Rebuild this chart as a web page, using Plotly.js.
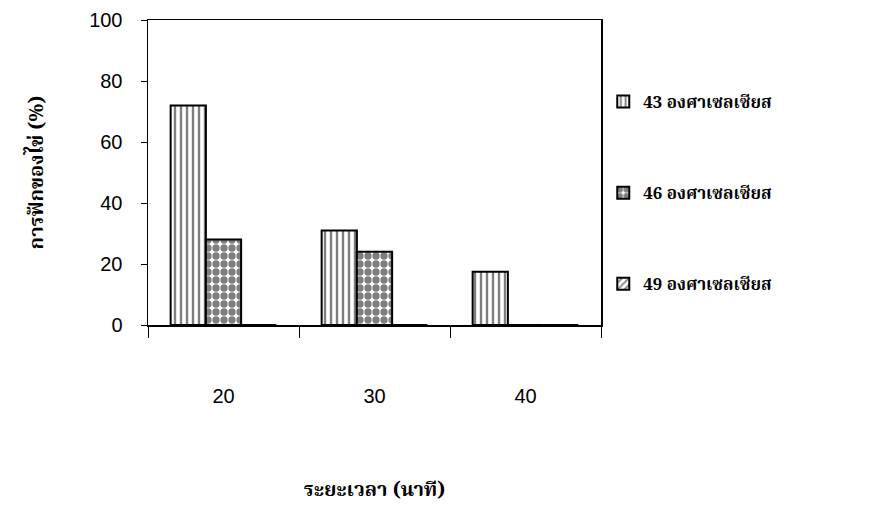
<!DOCTYPE html>
<html>
<head>
<meta charset="utf-8">
<script src="https://cdn.plot.ly/plotly-3.0.1.min.js"></script>
<style>html,body{margin:0;padding:0;background:#fff;}#chart{width:879px;height:507px;}</style>
</head>
<body>
<div id="chart"></div>
<script>
const categories = ["20", "30", "40"];
const seriesNames = ["43 องศาเซลเซียส", "46 องศาเซลเซียส", "49 องศาเซลเซียส"];
const values43 = [72, 31, 17.5];
const values46 = [28, 24, 0];
const values49 = [0, 0, 0];
const yTicks = [0, 20, 40, 60, 80, 100];

const thaiFont = '"Noto Serif Thai", "Noto Sans Thai", "Loma", "Garuda", "Liberation Serif", serif';
const numFont = '"Liberation Sans", Arial, sans-serif';

const patterns = [
  {shape: "|", size: 6, solidity: 0.4},
  {shape: ".", size: 8, solidity: 0.65},
  {shape: "/", size: 6, solidity: 0.35}
];
const allValues = [values43, values46, values49];

const traces = allValues.map((vals, i) => ({
  type: "bar",
  x: categories,
  y: vals,
  name: seriesNames[i],
  legendgroup: "g" + i,
  marker: {
    color: "#ffffff",
    line: {color: "#000000", width: 2},
    pattern: Object.assign({fgcolor: "#000000", bgcolor: "#ffffff", fillmode: "overlay"}, patterns[i])
  },
  hoverinfo: "x+y+name"
}));

const layout = {
  width: 879, height: 507,
  paper_bgcolor: "#ffffff", plot_bgcolor: "#ffffff",
  margin: {l: 148, r: 278, t: 20, b: 182},
  barmode: "group",
  bargap: 0.3,
  bargroupgap: 0,
  showlegend: true,
  legend: {
    x: 1.005, xanchor: "left", y: 0.79, yanchor: "top",
    font: {family: thaiFont, size: 17, color: "#000", weight: "bold"},
    tracegroupgap: 66,
    itemwidth: 30,
    bgcolor: "rgba(0,0,0,0)"
  },
  xaxis: {
    type: "category",
    tickson: "boundaries",
    ticks: "outside", ticklen: 11, tickwidth: 1, tickcolor: "#000",
    ticklabelstandoff: 52,
    showline: true, linecolor: "#000", linewidth: 1.5, mirror: true,
    showgrid: false, zeroline: false,
    tickfont: {family: numFont, size: 20, color: "#000"},
    title: {text: "ระยะเวลา (นาที)", font: {family: thaiFont, size: 20, color: "#000", weight: "bold"}, standoff: 89}
  },
  yaxis: {
    range: [0, 100],
    tickvals: yTicks,
    ticks: "outside", ticklen: 6, tickcolor: "#000",
    ticklabelstandoff: 14,
    showline: true, linecolor: "#000", linewidth: 1.5, mirror: true,
    showgrid: false, zeroline: false,
    tickfont: {family: numFont, size: 20, color: "#000"},
    title: {text: "การฟักของไข่ (%)", font: {family: thaiFont, size: 20, color: "#000", weight: "bold"}, standoff: 40}
  },
  font: {family: numFont, color: "#000"}
};

Plotly.newPlot("chart", traces, layout, {displayModeBar: false, staticPlot: true});
</script>
</body>
</html>
